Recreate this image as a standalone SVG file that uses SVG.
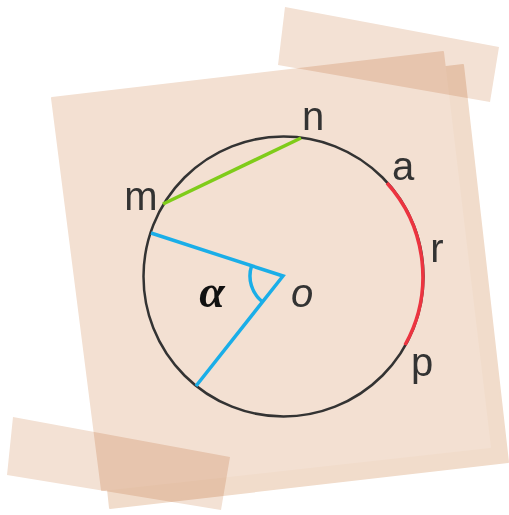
<svg xmlns="http://www.w3.org/2000/svg" width="509" height="515" viewBox="0 0 509 515">
<style>
.sheet-a{fill:#f3e0d2;stroke:#f3e0d2;stroke-width:2;stroke-linejoin:round}
.sheet-b{fill:#f1dccb;stroke:#f1dccb;stroke-width:2;stroke-linejoin:round}
.tape{fill:#f3e1d4;mix-blend-mode:multiply}
.circle{fill:none;stroke:#333;stroke-width:2.5}
.seg{fill:none;stroke-width:3.5;stroke-linecap:butt}
.blue{stroke:#1aaee8}
.green{stroke:#7fcc1a}
.red{stroke:#ec3440}
.label{font-family:"Liberation Sans",Arial,sans-serif;font-size:40px;fill:#333;text-anchor:middle}
.italic{font-style:italic}
.alpha{font-family:"Liberation Serif","Times New Roman",serif;font-size:46px;font-style:italic;font-weight:bold;fill:#111;text-anchor:middle}
</style>
<rect width="509" height="515" fill="#ffffff"/>
<g id="paper">
  <polygon class="sheet-b" points="68,112 463,65 508,462 110,508"/>
  <polygon class="sheet-a" points="52,98 443,52 490,447 102,490"/>
</g>
<g id="tapes">
  <polygon class="tape" points="285,7 499,47 490,102 278,65"/>
  <polygon class="tape" points="13,417 230,457 221,510 7,475"/>
</g>
<g id="circle-node">
  <circle class="circle" cx="283.5" cy="276.5" r="140"/>
</g>
<g id="connectors">
  <line class="seg green" x1="163" y1="204" x2="301" y2="138"/>
  <path class="seg red" d="M387,183 A140,140 0 0 1 405,345"/>
  <polyline class="seg blue" points="151,233 283,276 196,386" stroke-linejoin="miter"/>
  <path class="seg blue" d="M251.6,265.8 A33,33 0 0 0 262.5,301.9"/>
</g>
<g id="label-n"><text class="label" x="313" y="130">n</text></g>
<g id="label-m"><text class="label" x="141" y="210">m</text></g>
<g id="label-a"><text class="label" x="403" y="180">a</text></g>
<g id="label-r"><text class="label" x="437" y="262">r</text></g>
<g id="label-p"><text class="label" x="422" y="376">p</text></g>
<g id="label-o"><text class="label italic" x="302" y="307">o</text></g>
<g id="label-alpha"><text class="alpha" x="212" y="307">α</text></g>
</svg>
